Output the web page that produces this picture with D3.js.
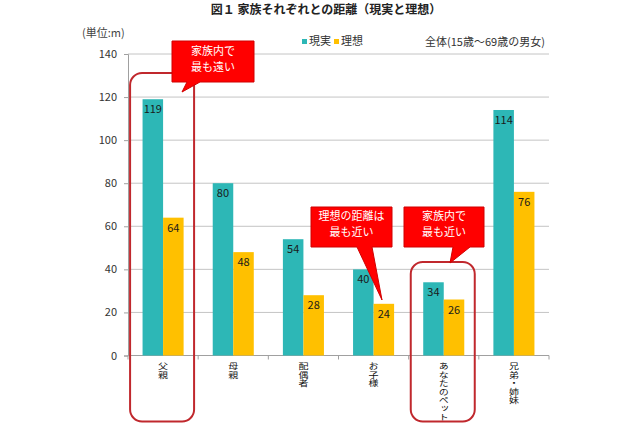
<!DOCTYPE html>
<html><head><meta charset="utf-8">
<script src="https://cdn.jsdelivr.net/npm/d3@7"></script>
<style>
body{margin:0;background:#fff;}
svg text{font-family:"Noto Sans CJK JP","Noto Sans",sans-serif;}
</style></head>
<body><svg id="c" width="640" height="426"></svg>
<script>
const categories = ["父親","母親","配偶者","お子様","あなたのペット","兄弟・姉妹"];
const seriesNames = ["現実","理想"];
const actual = [119,80,54,40,34,114];
const ideal = [64,48,28,24,26,76];
const yTicks = [0,20,40,60,80,100,120,140];
const colors = ["#2DB7B6","#FFC000"];

const svg = d3.select("#c");
const pL=128, pR=549, pT=54, pB=355.5;

const x = d3.scaleBand().domain(categories).range([pL,pR]).paddingInner(0.415).paddingOuter(0.2075);
const step = x.step();
const xs = d3.scaleBand().domain(seriesNames).range([0,x.bandwidth()]);
const y = d3.scaleLinear().domain([0,140]).range([pB,pT]);

// title
svg.append("text").attr("x",326).attr("y",14).attr("text-anchor","middle")
  .attr("font-size",12).attr("font-weight","bold").attr("fill","#222")
  .text("図１ 家族それぞれとの距離（現実と理想）");
svg.append("text").attr("x",82).attr("y",37).attr("font-size",11).attr("fill","#444").text("(単位:m)");
svg.append("text").attr("x",425).attr("y",46).attr("font-size",11).attr("fill","#333").text("全体(15歳～69歳の男女)");

// legend
const lg = svg.append("g");
seriesNames.forEach((s,i)=>{
  const lx = 302 + i*32;
  lg.append("rect").attr("x",lx).attr("y",39).attr("width",5).attr("height",5).attr("fill",colors[i]);
  lg.append("text").attr("x",lx+7).attr("y",45).attr("font-size",11).attr("fill","#333").text(s);
});

// gridlines
svg.append("g").selectAll("line").data(yTicks.filter(d=>d>0)).join("line")
  .attr("x1",pL).attr("x2",pR).attr("y1",d=>y(d)).attr("y2",d=>y(d))
  .attr("stroke","#c4c4c4").attr("stroke-width",1);

// y axis
const ya = svg.append("g").attr("transform",`translate(${pL},0)`)
  .call(d3.axisLeft(y).tickValues(yTicks).tickSize(4).tickPadding(7));
ya.select(".domain").attr("stroke","#a0a0a0");
ya.selectAll(".tick line").attr("stroke","#a0a0a0");
ya.selectAll(".tick text").attr("font-size",11).attr("fill","#333").attr("font-family","Liberation Sans, Arial, sans-serif");

// x axis baseline and ticks at boundaries
svg.append("line").attr("x1",pL).attr("x2",pR).attr("y1",pB).attr("y2",pB).attr("stroke","#a0a0a0");
svg.append("g").selectAll("line").data(d3.range(categories.length+1)).join("line")
  .attr("x1",i=>pL+i*step).attr("x2",i=>pL+i*step).attr("y1",pB).attr("y2",pB+4)
  .attr("stroke","#a0a0a0");

// bars
const data = categories.map((c,i)=>({c, vals:[actual[i],ideal[i]]}));
const g = svg.append("g").selectAll("g").data(data).join("g").attr("transform",d=>`translate(${x(d.c)},0)`);
g.selectAll("rect").data(d=>d.vals.map((v,i)=>({v,s:seriesNames[i],i}))).join("rect")
  .attr("x",d=>xs(d.s)).attr("width",xs.bandwidth()).attr("y",d=>y(d.v)).attr("height",d=>pB-y(d.v))
  .attr("fill",d=>colors[d.i]);
g.selectAll("text").data(d=>d.vals.map((v,i)=>({v,s:seriesNames[i],i}))).join("text")
  .attr("x",d=>xs(d.s)+xs.bandwidth()/2).attr("y",d=>y(d.v)+14).attr("text-anchor","middle")
  .attr("font-size",11).attr("fill","#1a1a1a").attr("font-family","Liberation Sans, Arial, sans-serif")
  .text(d=>d.v);

// category labels, vertical writing, slightly compressed vertically
svg.append("g").selectAll("text").data(categories).join("text")
  .attr("transform",d=>`translate(${x(d)+x.bandwidth()/2},362) scale(1,0.84)`)
  .attr("x",0).attr("y",0)
  .style("writing-mode","vertical-rl").style("text-orientation","upright")
  .attr("font-size",10).attr("fill","#111").text(d=>d);

// rounded highlight boxes
function hl(cat, y0){
  const cx = x(cat)+x.bandwidth()/2;
  svg.append("rect").attr("x",cx-33).attr("y",y0).attr("width",64).attr("height",421.5-y0)
    .attr("rx",12).attr("fill","none").attr("stroke","#C0282D").attr("stroke-width",2);
}
hl("父親",73);
hl("あなたのペット",262);

// callouts
function callout(x0,y0,w,h,b1,b2,tx,ty,lines){
  const p = `M${x0},${y0}H${x0+w}V${y0+h}H${b2}L${tx},${ty}L${b1},${y0+h}H${x0}Z`;
  svg.append("path").attr("d",p).attr("fill","#FF0000").attr("stroke","#D00000").attr("stroke-width",1);
  lines.forEach((t,i)=>{
    svg.append("text").attr("x",x0+w/2).attr("y",y0+h/2-3+ (i-(lines.length-1)/2)*16+4)
      .attr("text-anchor","middle").attr("font-size",11).attr("fill","#fff").text(t);
  });
}
callout(172,41,82,41,187,200,182,92,["家族内で","最も遠い"]);
callout(311,207,81,40,357,372,382,300,["理想の距離は","最も近い"]);
callout(404,207,80,40,453,470,450,263,["家族内で","最も近い"]);
</script></body></html>
